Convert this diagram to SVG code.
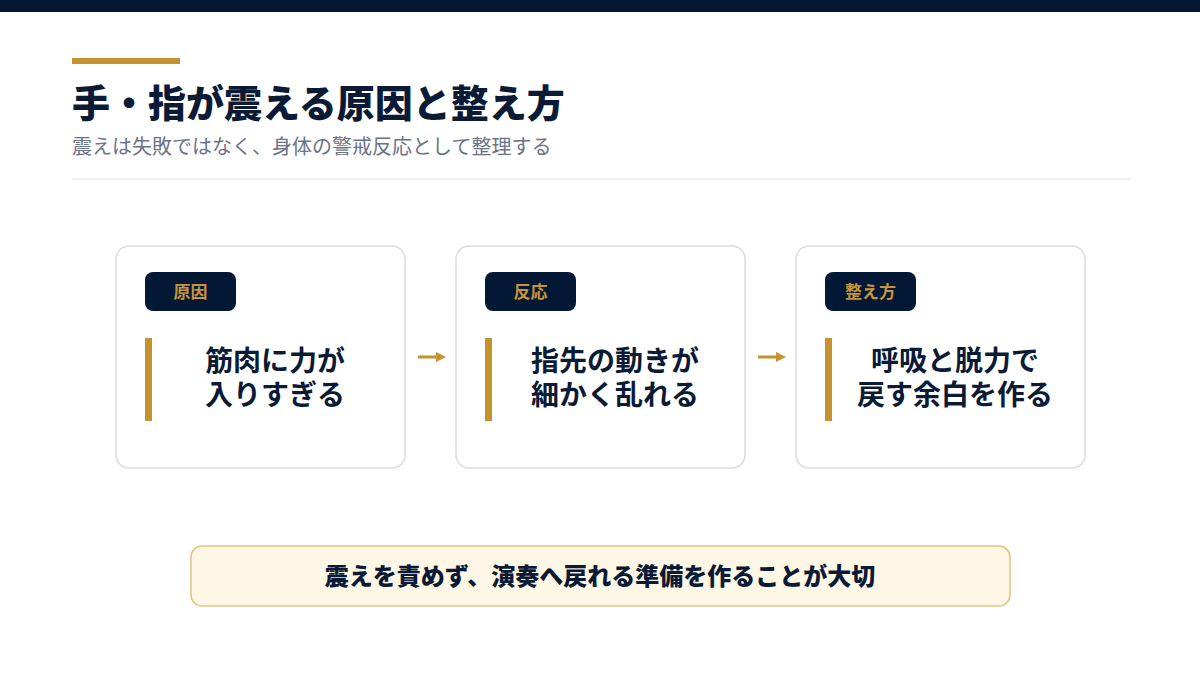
<svg xmlns="http://www.w3.org/2000/svg" width="1200" height="675" viewBox="0 0 1200 675">
<defs>
<style>
text{font-family:"Noto Sans CJK JP","Noto Sans",sans-serif;}
.card{fill:#ffffff;stroke:#d9dce1;stroke-width:1.5;}
.badge{fill:#031835;}
.badgeT{fill:#c7943a;font-size:17px;font-weight:700;text-anchor:middle;}
.bar{fill:#c4922f;}
.main{fill:#0b1a35;font-size:28px;font-weight:700;text-anchor:middle;}
.arrow{stroke:#c4922f;stroke-width:3;fill:none;}
</style>
<marker id="ah" markerWidth="10" markerHeight="10" refX="0" refY="5" orient="auto" markerUnits="userSpaceOnUse">
<path d="M0,0 L10,5 L0,10 Z" fill="#c4922f"/>
</marker>
</defs>
<rect x="0" y="0" width="1200" height="675" fill="#ffffff"/>
<rect x="0" y="0" width="1200" height="12" fill="#031835"/>
<rect x="72" y="58" width="108" height="6" fill="#c4922f"/>
<text x="72" y="117" font-size="38" font-weight="900" fill="#0b1a35">手・指が震える原因と整え方</text>
<text x="72" y="154" font-size="20" fill="#6b7385">震えは失敗ではなく、身体の警戒反応として整理する</text>
<rect x="72" y="178" width="1058" height="2" fill="#eef0f2"/>

<g id="connectors">
<line class="arrow" x1="418" y1="357" x2="436" y2="357" marker-end="url(#ah)"/>
<line class="arrow" x1="758" y1="357" x2="776" y2="357" marker-end="url(#ah)"/>
</g>

<g id="node-cause">
<rect class="card" x="116" y="246" width="289" height="222" rx="13"/>
<rect class="badge" x="145" y="272" width="91" height="39" rx="8"/>
<text class="badgeT" x="190.5" y="298">原因</text>
<rect class="bar" x="145" y="338" width="7" height="83"/>
<text class="main"><tspan x="275" y="371">筋肉に力が</tspan><tspan x="275" y="405">入りすぎる</tspan></text>
</g>

<g id="node-reaction">
<rect class="card" x="456" y="246" width="289" height="222" rx="13"/>
<rect class="badge" x="485" y="272" width="91" height="39" rx="8"/>
<text class="badgeT" x="530.5" y="298">反応</text>
<rect class="bar" x="485" y="338" width="7" height="83"/>
<text class="main"><tspan x="615" y="371">指先の動きが</tspan><tspan x="615" y="405">細かく乱れる</tspan></text>
</g>

<g id="node-method">
<rect class="card" x="796" y="246" width="289" height="222" rx="13"/>
<rect class="badge" x="825" y="272" width="91" height="39" rx="8"/>
<text class="badgeT" x="870.5" y="298">整え方</text>
<rect class="bar" x="825" y="338" width="7" height="83"/>
<text class="main"><tspan x="955" y="371">呼吸と脱力で</tspan><tspan x="955" y="405">戻す余白を作る</tspan></text>
</g>

<g id="node-summary">
<rect x="191" y="546" width="819" height="60" rx="11" fill="#fef7e5" stroke="#e0c57e" stroke-width="1.5"/>
<text x="600" y="585" font-size="24" font-weight="800" fill="#0b1a35" text-anchor="middle">震えを責めず、演奏へ戻れる準備を作ることが大切</text>
</g>
</svg>
